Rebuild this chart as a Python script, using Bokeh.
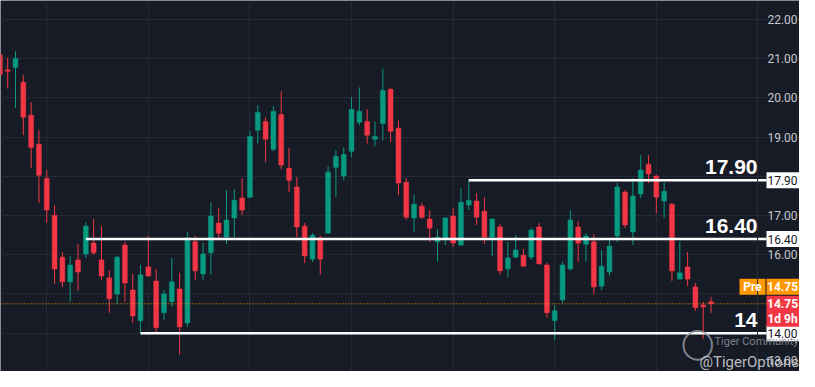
from bokeh.plotting import figure
from bokeh.models import Range1d, FixedTicker, Span, Label, ColumnDataSource
from bokeh.core.properties import value
from bokeh.embed import file_html
from bokeh.resources import INLINE

# ---- data (daily candles) ----
opens = [21.10, 20.72, 20.78, 20.40, 19.56, 18.82, 17.95, 17.01, 15.94, 15.31,
         15.87, 16.02, 16.30, 15.87, 15.41, 15.00, 16.25, 15.10, 14.32, 15.69,
         15.33, 14.52, 14.80, 15.13, 14.26, 16.33, 15.51, 16.05, 16.81, 16.45,
         16.94, 17.45, 17.47, 19.18, 19.40, 18.69, 19.58, 18.21, 17.73, 16.73,
         15.89, 16.43, 16.55, 18.23, 18.01, 18.64, 19.38, 19.40, 18.95, 19.35,
         20.22, 19.23, 17.85, 16.94, 17.24, 16.91, 16.33, 16.43, 16.99, 16.25,
         17.27, 17.37, 17.11, 16.45, 16.71, 15.64, 15.94, 15.99, 15.94, 16.71,
         15.74, 14.32, 14.85, 15.64, 16.71, 16.27, 16.33, 15.20, 15.56, 16.48,
         17.60, 16.58, 17.55, 18.31, 18.01, 17.37, 17.29, 15.38, 15.69, 15.18,
         14.72, 14.80]
highs = [21.15, 21.03, 21.19, 20.58, 19.89, 19.18, 18.16, 17.27, 16.07, 15.97,
         16.27, 16.83, 16.91, 16.73, 15.61, 15.97, 16.33, 15.51, 15.74, 16.48,
         15.64, 15.10, 15.92, 15.54, 16.58, 16.48, 16.30, 17.34, 17.19, 17.65,
         17.67, 17.95, 19.15, 19.81, 19.51, 19.79, 20.17, 18.72, 17.98, 16.81,
         16.55, 16.48, 18.26, 18.67, 18.74, 20.02, 20.27, 19.71, 19.40, 20.75,
         20.25, 19.43, 17.95, 17.52, 17.32, 17.14, 16.66, 16.96, 17.19, 17.70,
         17.90, 17.57, 17.47, 16.93, 16.78, 16.33, 16.50, 16.15, 16.68, 16.81,
         15.79, 14.72, 15.82, 17.14, 16.86, 16.55, 16.53, 16.12, 16.38, 17.83,
         17.65, 17.95, 18.54, 18.54, 18.03, 17.85, 17.32, 16.33, 16.07, 15.28,
         14.80, 14.93]
lows = [20.55, 20.24, 19.74, 19.05, 18.21, 17.32, 16.81, 15.26, 15.18, 14.80,
        15.08, 15.92, 16.00, 15.36, 14.52, 14.75, 14.80, 14.26, 13.98, 15.44,
        13.98, 14.34, 14.67, 13.45, 14.16, 15.36, 15.36, 15.49, 16.38, 16.27,
        16.45, 17.01, 17.45, 18.84, 18.36, 18.64, 18.18, 17.60, 16.45, 15.79,
        15.82, 15.49, 16.55, 17.47, 17.90, 18.49, 19.30, 18.84, 18.77, 18.92,
        18.87, 17.52, 16.89, 16.58, 16.91, 16.33, 15.82, 16.25, 16.20, 16.22,
        17.14, 16.76, 16.27, 15.97, 15.49, 15.44, 15.92, 15.69, 15.87, 15.75,
        14.39, 13.83, 14.77, 15.59, 15.82, 15.82, 15.00, 15.10, 15.46, 16.33,
        16.68, 16.25, 17.45, 17.83, 17.06, 16.94, 15.33, 15.38, 15.20, 14.57,
        13.85, 14.52]
closes = [20.60, 20.68, 21.01, 19.51, 18.74, 18.03, 17.14, 15.64, 15.31, 15.74,
          15.56, 16.73, 16.05, 15.46, 14.88, 15.94, 15.28, 14.44, 15.49, 15.46,
          14.14, 15.00, 15.31, 14.16, 16.43, 15.59, 16.02, 16.99, 16.55, 16.89,
          17.39, 17.14, 19.02, 19.63, 18.95, 19.66, 18.29, 17.90, 16.71, 15.97,
          16.50, 15.89, 18.11, 18.51, 18.56, 19.71, 19.66, 19.05, 19.02, 20.19,
          19.15, 17.83, 16.96, 17.29, 16.96, 16.68, 16.45, 16.94, 16.30, 17.34,
          17.39, 16.96, 16.45, 16.91, 15.59, 15.92, 16.12, 15.71, 16.63, 15.77,
          14.52, 14.57, 15.74, 16.89, 16.30, 16.48, 15.18, 15.71, 16.22, 17.73,
          16.76, 17.50, 18.16, 18.06, 17.47, 17.62, 15.59, 15.54, 15.38, 14.65,
          14.67, 14.75]

level_prices = [17.90, 16.40, 14.00]
level_start_bar = [60, 11, 18]
level_titles = ["17.90", "16.40", "14"]
level_box_texts = ["17.90", "16.40", "14.00"]
last_price = 14.75
last_price_text = "14.75"
countdown_text = "1d 9h"
pre_text = "Pre"
axis_ticks = [16, 17, 19, 20, 21, 22]
axis_tick_labels = ["16.00", "17.00", "19.00", "20.00", "21.00", "22.00"]
bottom_tick = 13
bottom_tick_label = "13.00"
grid_prices = [13, 14, 15, 16, 17, 18, 19, 20, 21, 22]
time_grid_bars = [6, 19, 32, 45, 58, 71, 84]

# ---- style ----
BG = "#171b26"
GRID = "#252935"
UP = "#089981"
DOWN = "#f23645"
ORANGE = "#ff9800"
FONT = "Roboto"
SCALE_TXT = "#c5c8ce"

bars = list(range(len(opens)))
colors = [UP if c >= o else DOWN for o, c in zip(opens, closes)]
src = ColumnDataSource(dict(
    x=bars,
    top=[max(o, c) for o, c in zip(opens, closes)],
    bottom=[min(o, c) for o, c in zip(opens, closes)],
    high=highs, low=lows, color=colors,
))

W, H = 799, 371
px_per_bar = 7.815
x_start = 0.08
x_end = x_start + W / px_per_bar
px_per_unit = 39.2
y_top = 22.487
y_bottom = y_top - H / px_per_unit

scale_left = 766      # left edge of the price scale (px from left)
border_px = 757       # price-scale border line
scale_mid = 782       # centre of price-scale texts

def bar_at(px):
    return x_start + px / px_per_bar

def up_px(price, px):
    return price + px / px_per_unit

p = figure(width=W, height=H, min_border=0,
           output_backend="svg", toolbar_location=None,
           x_range=Range1d(x_start, x_end), y_range=Range1d(y_bottom, y_top),
           background_fill_color=BG, border_fill_color=BG, outline_line_color=None,
           y_axis_location=None, x_axis_location=None)

p.xgrid.ticker = FixedTicker(ticks=time_grid_bars)
p.xgrid.grid_line_color = GRID
p.ygrid.ticker = FixedTicker(ticks=grid_prices)
p.ygrid.grid_line_color = GRID

# price-scale border
p.add_layout(Span(location=bar_at(border_px), dimension="height", line_color=GRID, line_width=1))

# price scale labels
p.text(x=[bar_at(scale_mid)] * len(axis_ticks), y=axis_ticks, text=axis_tick_labels,
       text_font=value(FONT), text_font_size="12px", text_color=SCALE_TXT,
       text_align="center", text_baseline="middle")
p.text(x=[bar_at(scale_mid)], y=[bottom_tick], text=[bottom_tick_label], y_offset=-7,
       text_font=value(FONT), text_font_size="12px", text_color=SCALE_TXT,
       text_align="center", text_baseline="bottom")

# last price dotted line
p.add_layout(Span(location=last_price, dimension="width", line_color=ORANGE,
                  line_dash="1 2", line_width=1))

# candles
p.segment(x0="x", y0="low", x1="x", y1="high", line_color="color", line_width=1, source=src)
p.vbar(x="x", width=0.62, top="top", bottom="bottom", fill_color="color",
       line_color="color", line_width=0.5, source=src)

# horizontal levels
p.segment(x0=level_start_bar, y0=level_prices, x1=[bar_at(scale_left)] * len(level_prices),
          y1=level_prices, line_color="white", line_width=2.5)

# price-scale boxes (backgrounds)
n = len(level_prices)
p.quad(left=[bar_at(scale_left)] * n, right=[x_end + 1] * n,
       top=[up_px(v, 8) for v in level_prices], bottom=[up_px(v, -8) for v in level_prices],
       fill_color="white", line_color=None)
p.quad(left=[bar_at(scale_left - 27), bar_at(scale_left)], right=[bar_at(scale_left - 1), x_end + 1],
       top=[up_px(last_price, 25)] * 2, bottom=[up_px(last_price, 9)] * 2,
       fill_color=ORANGE, line_color=None)
p.quad(left=[bar_at(scale_left)], right=[x_end + 1],
       top=[up_px(last_price, 8)], bottom=[up_px(last_price, -23)],
       fill_color=DOWN, line_color=None)

# level titles and box texts
for price, title, boxtxt in zip(level_prices, level_titles, level_box_texts):
    p.add_layout(Label(x=border_px, x_units="screen", y=price, y_units="data", text=title,
                       text_align="right", text_baseline="bottom", y_offset=6,
                       text_color="white", text_font="Liberation Sans", text_font_style="bold",
                       text_font_size="21px"))
    p.add_layout(Label(x=scale_mid, x_units="screen", y=price, y_units="data", text=boxtxt,
                       text_align="center", text_baseline="middle", text_color="#131722",
                       text_font=FONT, text_font_size="12px"))

# last price texts
p.add_layout(Label(x=scale_left - 14, x_units="screen", y=last_price, y_units="data", text=pre_text,
                   y_offset=17, text_align="center", text_baseline="middle", text_color="white",
                   text_font=FONT, text_font_size="12px", text_font_style="bold"))
p.add_layout(Label(x=scale_mid, x_units="screen", y=last_price, y_units="data", text=last_price_text,
                   y_offset=17, text_align="center", text_baseline="middle", text_color="white",
                   text_font=FONT, text_font_size="12px", text_font_style="bold"))
p.add_layout(Label(x=scale_mid, x_units="screen", y=last_price, y_units="data", text=last_price_text,
                   text_align="center", text_baseline="middle", text_color="white",
                   text_font=FONT, text_font_size="12px", text_font_style="bold"))
p.add_layout(Label(x=scale_mid, x_units="screen", y=last_price, y_units="data", text=countdown_text,
                   y_offset=-15, text_align="center", text_baseline="middle", text_color="white",
                   text_font=FONT, text_font_size="12px", text_font_style="bold"))

# watermark
p.add_layout(Label(x=697, x_units="screen", y=H - 342, y_units="screen", text="\u25ef",
                   text_align="center", text_baseline="middle", text_color="#9da0a6",
                   text_alpha=0.8, text_font="DejaVu Sans", text_font_size="30px"))
p.add_layout(Label(x=714, x_units="screen", y=H - 341, y_units="screen", text="Tiger Community",
                   text_align="left", text_baseline="middle", text_color="#8b8e95",
                   text_alpha=0.9, text_font=FONT, text_font_size="11px"))
p.add_layout(Label(x=699, x_units="screen", y=H - 361, y_units="screen", text="@TigerOptions",
                   text_align="left", text_baseline="middle", text_color="#d0d1d4",
                   text_alpha=0.9, text_font=FONT, text_font_size="15px"))

html = file_html(p, INLINE, title="chart")
html = html.replace("<body>", '<body style="background-color:%s;">' % BG, 1)
open("out.html", "w").write(html)
